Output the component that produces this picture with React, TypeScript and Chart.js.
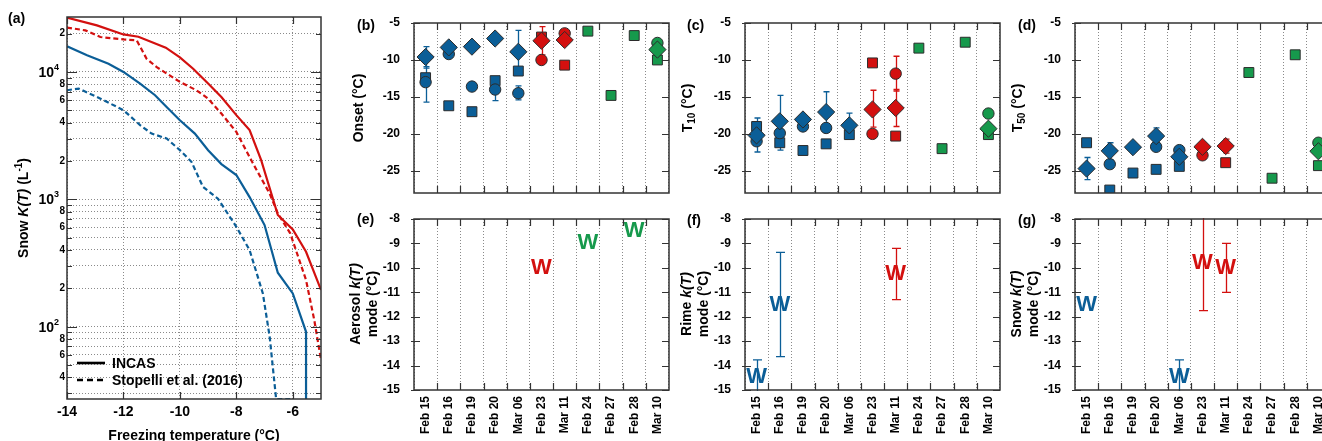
import React, { useEffect, useRef } from 'react';
import { Chart, registerables } from 'chart.js';

Chart.register(...registerables);

const FONT = "'Liberation Sans', Arial, Helvetica, sans-serif";
const BLUE = '#0b5e97';
const RED = '#d3100f';
const GREEN = '#16994c';
const FRAME = '#333333';
const GRID = '#8a8a8a';
const MARKER_EDGE = '#2b2b2b';
const groupColor: Record<string, string> = { blue: BLUE, red: RED, green: GREEN };

// ---------------- Panel (a): Snow K(T) spectra ----------------
const aXTicks = [-14, -12, -10, -8, -6];
const aYTicks = [30, 40, 50, 60, 70, 80, 90, 100, 200, 300, 400, 500, 600, 700, 800, 900,
  1000, 2000, 3000, 4000, 5000, 6000, 7000, 8000, 9000, 10000, 20000];
const aYLabels: Record<number, string> = {
  40: '4', 60: '6', 80: '8', 200: '2', 400: '4', 600: '6', 800: '8',
  2000: '2', 4000: '4', 6000: '6', 8000: '8', 20000: '2',
};
const aDecades = [100, 1000, 10000];
const legendLabels = ['INCAS', 'Stopelli et al. (2016)'];

const incasRedT = [-14, -12.94, -12, -11.47, -10.5, -10, -9.53, -9, -8.53, -8, -7.53, -7.12, -6.76, -6.53, -6, -5.53, -5];
const incasRedK = [26700, 23200, 19700, 18900, 15500, 13000, 10600, 8100, 6360, 4580, 3490, 2030, 1110, 752, 580, 387, 194];
const stopRedT = [-14, -13.35, -12.82, -12, -11.53, -11.18, -10.82, -10, -9.41, -9, -8.53, -8, -7.41, -6.82, -6.53, -6.09, -5.53, -5.24, -5];
const stopRedK = [22300, 21200, 18800, 18000, 17700, 12700, 10900, 8350, 7170, 6180, 4710, 3380, 1910, 1110, 774, 540, 232, 113, 55];
const incasBlueT = [-14, -13.29, -12.53, -12, -11.41, -10.88, -10.47, -10, -9.47, -9, -8.53, -8, -7.53, -7, -6.53, -6, -5.53, -5.53];
const incasBlueK = [15900, 13500, 11600, 10000, 8100, 6560, 5310, 4170, 3280, 2430, 1890, 1550, 1040, 627, 265, 182, 91, 10];
const stopBlueT = [-14, -13.59, -12.94, -12, -11.41, -11, -10.47, -10, -9.59, -9.18, -8.65, -8, -7.53, -7.06, -6.82, -6.59, -6.53, -6];
const stopBlueK = [7180, 7400, 6370, 5010, 3820, 3280, 3000, 2430, 1970, 1250, 1010, 608, 399, 182, 83.6, 27, 27, 27];

// ---------------- Panels (b)-(g): per-date values ----------------
const dates = ['Feb 15', 'Feb 16', 'Feb 19', 'Feb 20', 'Mar 06', 'Feb 23', 'Mar 11', 'Feb 24', 'Feb 27', 'Feb 28', 'Mar 10'];
const dateGroup = ['blue', 'blue', 'blue', 'blue', 'blue', 'red', 'red', 'green', 'green', 'green', 'green'];
const topYTicks = [-5, -10, -15, -20, -25];
const bottomYTicks = [-8, -9, -10, -11, -12, -13, -14, -15];

type Err = [number, number] | null;

const onsetSquare = [-12.4, -16.2, -17.0, -12.8, -11.5, -6.9, -10.7, -6.1, -14.8, -6.7, -10.0];
const onsetCircle = [-13.0, -9.2, -13.6, -14.0, -14.5, -10.0, -6.4, null, null, null, -7.7];
const onsetDiamond = [-9.6, -8.3, -8.2, -7.1, -8.9, -7.4, -7.3, null, null, null, -8.6];
const onsetCircleErr: Err[] = [[-10.9, -15.7], null, null, [-12.9, -15.5], [-13.5, -15.4], null, null, null, null, null, null];
const onsetDiamondErr: Err[] = [[-8.2, -11.1], null, null, null, [-6.0, -11.8], [-5.5, -9.3], null, null, null, null, null];

const t10Square = [-19.0, -21.2, -22.25, -21.35, -20.1, -10.4, -20.3, -8.4, -22.0, -7.6, -20.1];
const t10Circle = [-21.0, -19.9, -19.0, -19.2, null, -20.0, -11.85, null, null, null, -17.25];
const t10Diamond = [-20.2, -18.3, -18.05, -17.05, -18.85, -16.7, -16.5, null, null, null, -19.3];
const t10CircleErr: Err[] = [null, null, null, null, null, null, [-9.5, -14.2], null, null, null, null];
const t10DiamondErr: Err[] = [[-17.85, -22.45], [-14.8, -22.2], null, [-14.3, -19.8], [-17.2, -20.5], [-14.1, -19.1], [-14.0, -19.0], null, null, null, null];

const t50Square = [-21.2, -27.6, -25.3, -24.8, -24.4, null, -23.9, -11.7, -26.0, -9.3, -24.3];
const t50Circle = [null, -24.1, null, -21.75, -22.2, -22.9, null, null, null, null, -21.2];
const t50Diamond = [-24.7, -22.3, -21.8, -20.3, -23.1, -21.75, -21.65, null, null, null, -22.35];
const t50DiamondErr: Err[] = [[-23.2, -26.2], [-21.2, -23.5], null, [-19.2, -21.4], null, null, [-20.7, -22.6], null, null, null, null];

const aerosolMode = [null, null, null, null, null, -10.0, null, -9.0, null, -8.5, null];
const rimeMode = [-14.45, -11.5, null, null, null, null, -10.25, null, null, null, null];
const rimeModeErr: Err[] = [[-13.77, -15.2], [-9.37, -13.63], null, null, null, null, [-9.2, -11.3], null, null, null, null];
const snowMode = [-11.5, null, null, null, -14.45, -9.8, -10.0, null, null, null, null];
const snowModeErr: Err[] = [null, null, null, null, [-13.77, -15.1], [-7.9, -11.75], [-9.0, -11.0], null, null, null, null];

const pointColors = dateGroup.map((g) => groupColor[g]);

// ---------------- plugins ----------------
const errorBarPlugin = {
  id: 'errorBars',
  beforeDatasetsDraw(chart: any) {
    const { ctx, chartArea } = chart;
    const ys = chart.scales.y;
    ctx.save();
    ctx.beginPath();
    ctx.rect(chartArea.left, chartArea.top - 1, chartArea.right - chartArea.left, chartArea.bottom - chartArea.top + 2);
    ctx.clip();
    chart.data.datasets.forEach((ds: any, di: number) => {
      if (!ds.errorBars) return;
      const meta = chart.getDatasetMeta(di);
      const cap = ds.errorCap ?? 3;
      ds.errorBars.forEach((e: Err, i: number) => {
        if (!e) return;
        const el = meta.data[i];
        if (!el) return;
        const x = Math.round(el.x) + 0.5;
        const y1 = ys.getPixelForValue(e[0]);
        const y2 = ys.getPixelForValue(e[1]);
        ctx.strokeStyle = ds.pointBackgroundColor[i];
        ctx.lineWidth = 1.3;
        ctx.beginPath();
        ctx.moveTo(x, y1); ctx.lineTo(x, y2);
        ctx.moveTo(x - cap, y1); ctx.lineTo(x + cap, y1);
        ctx.moveTo(x - cap, y2); ctx.lineTo(x + cap, y2);
        ctx.stroke();
      });
    });
    ctx.restore();
  },
};

const wPlugin = {
  id: 'wMarkers',
  afterDatasetsDraw(chart: any) {
    const ctx = chart.ctx;
    chart.data.datasets.forEach((ds: any, di: number) => {
      if (!ds.wMarker) return;
      const meta = chart.getDatasetMeta(di);
      ds.data.forEach((v: any, i: number) => {
        if (v == null) return;
        const el = meta.data[i];
        ctx.save();
        ctx.font = `bold 22px ${FONT}`;
        ctx.textAlign = 'center';
        ctx.textBaseline = 'middle';
        ctx.fillStyle = ds.pointBackgroundColor[i];
        ctx.fillText('W', el.x, el.y);
        ctx.restore();
      });
    });
  },
};

const catFramePlugin = {
  id: 'catFrame',
  afterDraw(chart: any) {
    const { ctx, chartArea: { left, right, top, bottom } } = chart;
    const xs = chart.scales.x;
    const ys = chart.scales.y;
    ctx.save();
    ctx.strokeStyle = FRAME;
    ctx.lineWidth = 1.2;
    ctx.beginPath();
    const n = xs.ticks.length;
    for (let i = 1; i < n; i++) {
      const px = Math.round((xs.getPixelForTick(i - 1) + xs.getPixelForTick(i)) / 2) + 0.5;
      ctx.moveTo(px, top); ctx.lineTo(px, top + 7);
      ctx.moveTo(px, bottom); ctx.lineTo(px, bottom - 7);
    }
    ys.ticks.forEach((t: any) => {
      const py = Math.round(ys.getPixelForValue(t.value)) + 0.5;
      ctx.moveTo(left - 3, py); ctx.lineTo(left + 6, py);
      ctx.moveTo(right - 7, py); ctx.lineTo(right, py);
    });
    ctx.stroke();
    ctx.lineWidth = 1.5;
    ctx.strokeRect(left, top, right - left, bottom - top);
    ctx.restore();
  },
};

const panelAPlugin = {
  id: 'panelA',
  afterDraw(chart: any) {
    const { ctx, chartArea: { left, right, top, bottom } } = chart;
    const xs = chart.scales.x;
    const ys = chart.scales.y;
    ctx.save();
    ctx.strokeStyle = FRAME;
    ctx.lineWidth = 1.2;
    ctx.beginPath();
    aXTicks.forEach((v) => {
      const px = Math.round(xs.getPixelForValue(v)) + 0.5;
      ctx.moveTo(px, bottom); ctx.lineTo(px, bottom - 7);
      ctx.moveTo(px, top); ctx.lineTo(px, top + 7);
    });
    aYTicks.forEach((v) => {
      const len = aDecades.includes(v) ? 10 : 5;
      const py = Math.round(ys.getPixelForValue(v)) + 0.5;
      ctx.moveTo(left, py); ctx.lineTo(left + len, py);
      ctx.moveTo(right, py); ctx.lineTo(right - len, py);
    });
    ctx.stroke();
    ctx.lineWidth = 1.5;
    ctx.strokeRect(left, top, right - left, bottom - top);

    // decade labels 10^n
    ctx.fillStyle = '#000';
    aDecades.forEach((v) => {
      const py = ys.getPixelForValue(v);
      const exp = String(Math.round(Math.log10(v)));
      ctx.font = `bold 9px ${FONT}`;
      const ew = ctx.measureText(exp).width;
      const rx = left - 8;
      ctx.textAlign = 'left';
      ctx.textBaseline = 'alphabetic';
      ctx.fillText(exp, rx - ew, py - 2);
      ctx.font = `bold 14px ${FONT}`;
      ctx.textAlign = 'right';
      ctx.fillText('10', rx - ew, py + 5);
    });

    // legend
    const lx = left + 10;
    const ly = [363, 380];
    ctx.strokeStyle = '#000';
    ctx.lineWidth = 2.6;
    legendLabels.forEach((lab, k) => {
      ctx.setLineDash(k === 0 ? [] : [6, 4]);
      ctx.beginPath();
      ctx.moveTo(lx, ly[k]); ctx.lineTo(lx + 28, ly[k]);
      ctx.stroke();
      ctx.setLineDash([]);
      ctx.font = `bold 14px ${FONT}`;
      ctx.textAlign = 'left';
      ctx.textBaseline = 'middle';
      ctx.fillText(lab, lx + 35, ly[k] + 1);
    });
    ctx.restore();
  },
};

// ---------------- config builders ----------------
const pts = (xs: number[], ys: number[]) => xs.map((x, i) => ({ x, y: ys[i] }));

function buildA(): any {
  const line = (t: number[], k: number[], color: string, dashed: boolean) => ({
    data: pts(t, k),
    borderColor: color,
    borderWidth: 2.2,
    borderDash: dashed ? [5, 3] : [],
    pointRadius: 0,
    tension: 0,
    fill: false,
  });
  return {
    type: 'line',
    data: {
      datasets: [
        line(incasRedT, incasRedK, RED, false),
        line(stopRedT, stopRedK, RED, true),
        line(incasBlueT, incasBlueK, BLUE, false),
        line(stopBlueT, stopBlueK, BLUE, true),
      ],
    },
    options: {
      animation: false,
      responsive: false,
      devicePixelRatio: 1,
      events: [],
      layout: { padding: { top: 17, right: 19, left: 0, bottom: 0 } },
      plugins: { legend: { display: false }, tooltip: { enabled: false } },
      scales: {
        x: {
          type: 'linear',
          min: -14,
          max: -5,
          afterBuildTicks: (s: any) => { s.ticks = aXTicks.map((v) => ({ value: v })); },
          afterFit: (s: any) => { s.height = 42; },
          grid: { color: GRID, lineWidth: 1, drawTicks: false },
          border: { display: false, dash: [1, 2] },
          ticks: {
            autoSkip: false,
            padding: 5,
            color: '#000',
            font: { family: FONT, size: 14, weight: 'bold' },
            callback: (v: any) => String(v),
          },
        },
        y: {
          type: 'logarithmic',
          min: 27,
          max: 27000,
          afterBuildTicks: (s: any) => { s.ticks = aYTicks.map((v) => ({ value: v, major: aDecades.includes(v) })); },
          afterFit: (s: any) => { s.width = 67; },
          grid: { color: GRID, lineWidth: 1, drawTicks: false },
          border: { display: false, dash: [1, 2] },
          ticks: {
            autoSkip: false,
            padding: 2,
            color: '#000',
            font: { family: FONT, size: 10, weight: 'bold' },
            callback: (v: any) => aYLabels[Number(v)] ?? '',
          },
        },
      },
    },
    plugins: [panelAPlugin],
  };
}

function markerSet(data: (number | null)[], style: string, radius: number, errors?: Err[]) {
  return {
    data,
    showLine: false,
    pointStyle: style,
    pointRadius: radius,
    pointBackgroundColor: pointColors,
    pointBorderColor: MARKER_EDGE,
    pointBorderWidth: 1,
    errorBars: errors,
    errorCap: 3,
  };
}

function wSet(data: (number | null)[], errors?: Err[]) {
  return {
    data,
    showLine: false,
    pointRadius: 0,
    pointBackgroundColor: pointColors,
    wMarker: true,
    errorBars: errors,
    errorCap: 4.5,
  };
}

function buildCat(datasets: any[], bottomRow: boolean): any {
  const yMin = bottomRow ? -15 : -28;
  const yMax = bottomRow ? -8 : -5;
  const yTicks = bottomRow ? bottomYTicks : topYTicks;
  const padTop = bottomRow ? 19 : 23;
  const xHeight = bottomRow ? 51 : 22;
  return {
    type: 'line',
    data: { labels: dates, datasets },
    options: {
      animation: false,
      responsive: false,
      devicePixelRatio: 1,
      events: [],
      layout: { padding: { top: padTop, right: 12, left: 0, bottom: 0 } },
      plugins: { legend: { display: false }, tooltip: { enabled: false } },
      scales: {
        x: {
          type: 'category',
          offset: true,
          afterFit: (s: any) => { s.height = xHeight; },
          grid: { offset: true, color: GRID, lineWidth: 1, drawTicks: false },
          border: { display: false, dash: [1, 2] },
          ticks: {
            display: bottomRow,
            autoSkip: false,
            minRotation: 90,
            maxRotation: 90,
            padding: 6,
            color: '#000',
            font: { family: FONT, size: 12, weight: 'bold' },
          },
        },
        y: {
          type: 'linear',
          min: yMin,
          max: yMax,
          afterBuildTicks: (s: any) => { s.ticks = yTicks.map((v) => ({ value: v })); },
          afterFit: (s: any) => { s.width = 60; },
          grid: { display: false },
          border: { display: false },
          ticks: {
            autoSkip: false,
            padding: 6,
            color: '#000',
            font: { family: FONT, size: 12, weight: 'bold' },
            callback: (v: any) => String(v),
          },
        },
      },
    },
    plugins: [errorBarPlugin, wPlugin, catFramePlugin],
  };
}

const SQ_R = 7;
const CI_R = 5.7;
const DI_R = 8.6;

const buildB = () => buildCat([
  markerSet(onsetDiamond, 'rectRot', DI_R, onsetDiamondErr),
  markerSet(onsetCircle, 'circle', CI_R, onsetCircleErr),
  markerSet(onsetSquare, 'rect', SQ_R),
], false);
const buildC = () => buildCat([
  markerSet(t10Diamond, 'rectRot', DI_R, t10DiamondErr),
  markerSet(t10Circle, 'circle', CI_R, t10CircleErr),
  markerSet(t10Square, 'rect', SQ_R),
], false);
const buildD = () => buildCat([
  markerSet(t50Diamond, 'rectRot', DI_R, t50DiamondErr),
  markerSet(t50Circle, 'circle', CI_R),
  markerSet(t50Square, 'rect', SQ_R),
], false);
const buildE = () => buildCat([wSet(aerosolMode)], true);
const buildF = () => buildCat([wSet(rimeMode, rimeModeErr)], true);
const buildG = () => buildCat([wSet(snowMode, snowModeErr)], true);

// ---------------- components ----------------
function ChartCanvas({ left, top, width, height, build }: { left: number; top: number; width: number; height: number; build: () => any }) {
  const ref = useRef<HTMLCanvasElement | null>(null);
  useEffect(() => {
    if (!ref.current) return;
    const chart = new Chart(ref.current, build());
    return () => chart.destroy();
  }, []);
  return (
    <canvas
      ref={ref}
      width={width}
      height={height}
      style={{ position: 'absolute', left, top, width, height }}
    />
  );
}

const textBase: React.CSSProperties = {
  position: 'absolute',
  fontFamily: FONT,
  fontWeight: 'bold',
  fontSize: 14,
  lineHeight: '14px',
  color: '#000',
  whiteSpace: 'nowrap',
};

function PanelLabel({ x, y, text }: { x: number; y: number; text: string }) {
  return <div style={{ ...textBase, left: x, top: y }}>{text}</div>;
}

function VTitle({ cx, cy, children }: { cx: number; cy: number; children: React.ReactNode }) {
  return (
    <div
      style={{
        ...textBase,
        lineHeight: '17px',
        left: cx,
        top: cy,
        textAlign: 'center',
        transform: 'translate(-50%, -50%) rotate(-90deg)',
      }}
    >
      {children}
    </div>
  );
}

const subStyle: React.CSSProperties = { fontSize: 10, verticalAlign: '-3px', lineHeight: 0 };
const supStyle: React.CSSProperties = { fontSize: 10, verticalAlign: '6px', lineHeight: 0 };

export default function App() {
  const topLefts = [414, 745, 1075];
  return (
    <div
      style={{
        position: 'absolute',
        left: 0,
        top: 0,
        width: 1322,
        height: 441,
        overflow: 'hidden',
        background: '#fff',
      }}
    >
      <ChartCanvas left={0} top={0} width={340} height={441} build={buildA} />
      <ChartCanvas left={topLefts[0] - 60} top={0} width={327} height={215} build={buildB} />
      <ChartCanvas left={topLefts[1] - 60} top={0} width={327} height={215} build={buildC} />
      <ChartCanvas left={topLefts[2] - 60} top={0} width={327} height={215} build={buildD} />
      <ChartCanvas left={topLefts[0] - 60} top={200} width={327} height={241} build={buildE} />
      <ChartCanvas left={topLefts[1] - 60} top={200} width={327} height={241} build={buildF} />
      <ChartCanvas left={topLefts[2] - 60} top={200} width={327} height={241} build={buildG} />

      <PanelLabel x={8} y={11} text="(a)" />
      <PanelLabel x={357} y={18} text="(b)" />
      <PanelLabel x={687} y={18} text="(c)" />
      <PanelLabel x={1018} y={18} text="(d)" />
      <PanelLabel x={357} y={212} text="(e)" />
      <PanelLabel x={687} y={213} text="(f)" />
      <PanelLabel x={1018} y={213} text="(g)" />

      <VTitle cx={23} cy={208}>
        Snow <i>K(T)</i> (L<span style={supStyle}>-1</span>)
      </VTitle>
      <div style={{ ...textBase, left: 194, top: 428, transform: 'translateX(-50%)' }}>
        Freezing temperature (°C)
      </div>

      <VTitle cx={358} cy={108}>Onset (°C)</VTitle>
      <VTitle cx={687} cy={108}>
        T<span style={subStyle}>10</span> (°C)
      </VTitle>
      <VTitle cx={1017} cy={108}>
        T<span style={subStyle}>50</span> (°C)
      </VTitle>

      <VTitle cx={364} cy={304}>
        Aerosol <i>k(T)</i>
        <br />
        mode (°C)
      </VTitle>
      <VTitle cx={695} cy={304}>
        Rime <i>k(T)</i>
        <br />
        mode (°C)
      </VTitle>
      <VTitle cx={1025} cy={304}>
        Snow <i>k(T)</i>
        <br />
        mode (°C)
      </VTitle>
    </div>
  );
}
